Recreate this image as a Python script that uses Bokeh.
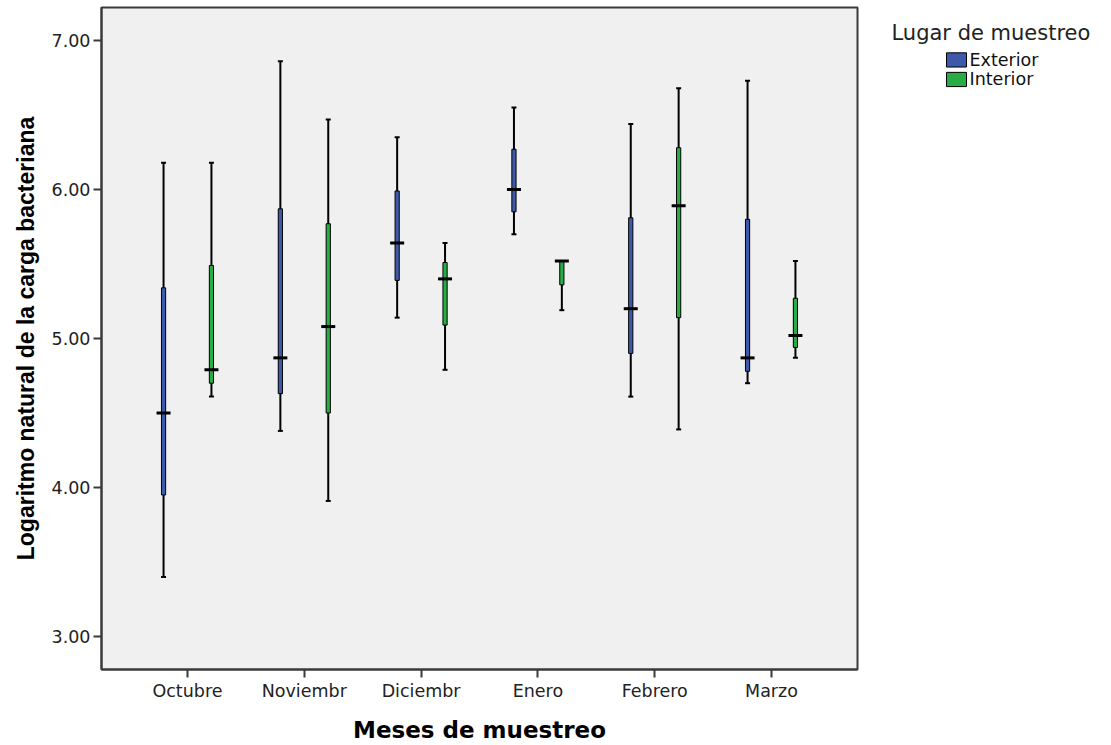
import numpy as np
from bokeh.plotting import figure
from bokeh.layouts import row
from bokeh.models import (ColumnDataSource, Range1d, FixedTicker, NumeralTickFormatter)
from bokeh.core.properties import value
from bokeh.embed import file_html
from bokeh.resources import INLINE

# Sampling months and sampling place
months = ["Octubre", "Noviembr", "Diciembr", "Enero", "Febrero", "Marzo"]
places = ["Exterior", "Interior"]
y_ticks = [3.0, 4.0, 5.0, 6.0, 7.0]

# Five-number summaries of ln(bacterial load) per month: min, Q1, median, Q3, max
ext_min = [3.40, 4.38, 5.14, 5.70, 4.61, 4.70]
ext_q1 = [3.95, 4.63, 5.39, 5.85, 4.90, 4.78]
ext_med = [4.50, 4.87, 5.64, 6.00, 5.20, 4.87]
ext_q3 = [5.34, 5.87, 5.99, 6.27, 5.81, 5.80]
ext_max = [6.18, 6.86, 6.35, 6.55, 6.44, 6.73]

int_min = [4.61, 3.91, 4.79, 5.19, 4.39, 4.87]
int_q1 = [4.70, 4.50, 5.09, 5.36, 5.14, 4.94]
int_med = [4.79, 5.08, 5.40, 5.52, 5.89, 5.02]
int_q3 = [5.49, 5.77, 5.51, 5.52, 6.28, 5.27]
int_max = [6.18, 6.47, 5.64, 5.52, 6.68, 5.52]

colors = {"Exterior": "#3D59AB", "Interior": "#28AD45"}

# Layout: main chart on the left, legend panel on the right
H = 745
B_LEFT, B_RIGHT, B_TOP, B_BOTTOM = 101, 10, 7, 75
FW, FH = 756, 663
W_MAIN = B_LEFT + FW + B_RIGHT
W_LEG = 1111 - W_MAIN

p = figure(width=W_MAIN, height=H, output_backend="svg", toolbar_location=None,
           title=None,
           x_range=Range1d(0.2637, 6.7363), y_range=Range1d(2.779, 7.221),
           min_border_left=B_LEFT, min_border_right=B_RIGHT,
           min_border_top=B_TOP, min_border_bottom=B_BOTTOM)
p.background_fill_color = "#F0F0F0"
p.border_fill_color = "white"
p.outline_line_color = "#3A3A3A"
p.outline_line_width = 2
p.xgrid.visible = False
p.ygrid.visible = False

pos = np.arange(1, len(months) + 1)
offset = 0.205
box_w = 0.036

series = {
    "Exterior": (ext_min, ext_q1, ext_med, ext_q3, ext_max, -offset),
    "Interior": (int_min, int_q1, int_med, int_q3, int_max, offset),
}

for place in places:
    mn, q1, md, q3, mx, off = series[place]
    src = ColumnDataSource(dict(x=pos + off, mn=mn, q1=q1, md=md, q3=q3, mx=mx))
    p.segment(x0="x", y0="mn", x1="x", y1="mx", source=src,
              line_color="black", line_width=2)
    p.scatter(x="x", y="mx", source=src, marker="dash", size=5,
              line_color="black", line_width=2)
    p.scatter(x="x", y="mn", source=src, marker="dash", size=5,
              line_color="black", line_width=2)
    p.vbar(x="x", bottom="q1", top="q3", width=box_w, source=src,
           fill_color=colors[place], line_color="black", line_width=1)
    p.scatter(x="x", y="md", source=src, marker="dash", size=14,
              line_color="black", line_width=3)

# Axes
p.xaxis.ticker = FixedTicker(ticks=list(pos))
p.xaxis.major_label_overrides = {int(i): m for i, m in zip(pos, months)}
p.yaxis.ticker = FixedTicker(ticks=y_ticks)
p.yaxis.formatter = NumeralTickFormatter(format="0.00")

for ax in (p.xaxis[0], p.yaxis[0]):
    ax.minor_tick_line_color = None
    ax.major_tick_in = 0
    ax.major_tick_out = 8
    ax.major_tick_line_width = 2
    ax.major_tick_line_color = "#3A3A3A"
    ax.axis_line_color = "#3A3A3A"
    ax.axis_line_width = 2
    ax.major_label_text_font = "DejaVu Sans"
    ax.major_label_text_font_size = "17.5px"
    ax.major_label_text_color = "#222222"
    ax.major_label_standoff = 3

p.xaxis.axis_label = "Meses de muestreo"
p.xaxis.axis_label_text_font = "DejaVu Sans"
p.xaxis.axis_label_text_font_style = "bold"
p.xaxis.axis_label_text_font_size = "23px"
p.xaxis.axis_label_text_color = "black"
p.xaxis.axis_label_standoff = 13

p.yaxis.axis_label = "Logaritmo natural de la carga bacteriana"
p.yaxis.axis_label_text_font = "Liberation Sans"
p.yaxis.axis_label_text_font_style = "bold"
p.yaxis.axis_label_text_font_size = "23px"
p.yaxis.axis_label_text_color = "black"
p.yaxis.axis_label_standoff = 10

# Legend panel, laid out in pixel coordinates (y grows downwards)
leg = figure(width=W_LEG, height=H, output_backend="svg", toolbar_location=None,
             title=None,
             x_range=Range1d(0, W_LEG), y_range=Range1d(H, 0),
             x_axis_location=None, y_axis_location=None,
             min_border_left=0, min_border_right=0,
             min_border_top=0, min_border_bottom=0)
leg.outline_line_color = None
leg.background_fill_color = "white"
leg.border_fill_color = "white"
leg.xgrid.visible = False
leg.ygrid.visible = False

sw_left, sw_w, sw_h, sw_top0, pitch = 79, 20, 16, 51, 22
idx = np.arange(len(places))
leg_src = ColumnDataSource(dict(
    label=places,
    color=[colors[pl] for pl in places],
    left=[sw_left] * len(places),
    right=[sw_left + sw_w] * len(places),
    top=sw_top0 + pitch * idx,
    bottom=sw_top0 + pitch * idx + sw_h,
    tx=[sw_left + sw_w + 3] * len(places),
    ty=sw_top0 + pitch * idx + sw_h / 2,
))
leg.quad(left="left", right="right", top="top", bottom="bottom", source=leg_src,
         fill_color="color", line_color="black", line_width=1)
leg.text(x="tx", y="ty", text="label", source=leg_src,
         text_font=value("DejaVu Sans"), text_font_size="17.5px",
         text_color="#111111", text_baseline="middle")
leg.text(x=[24], y=[29], text=["Lugar de muestreo"],
         text_font=value("DejaVu Sans"), text_font_size="21px",
         text_color="#222222", text_baseline="middle")

layout = row(p, leg, spacing=0)
open("out.html", "w").write(file_html(layout, INLINE))
